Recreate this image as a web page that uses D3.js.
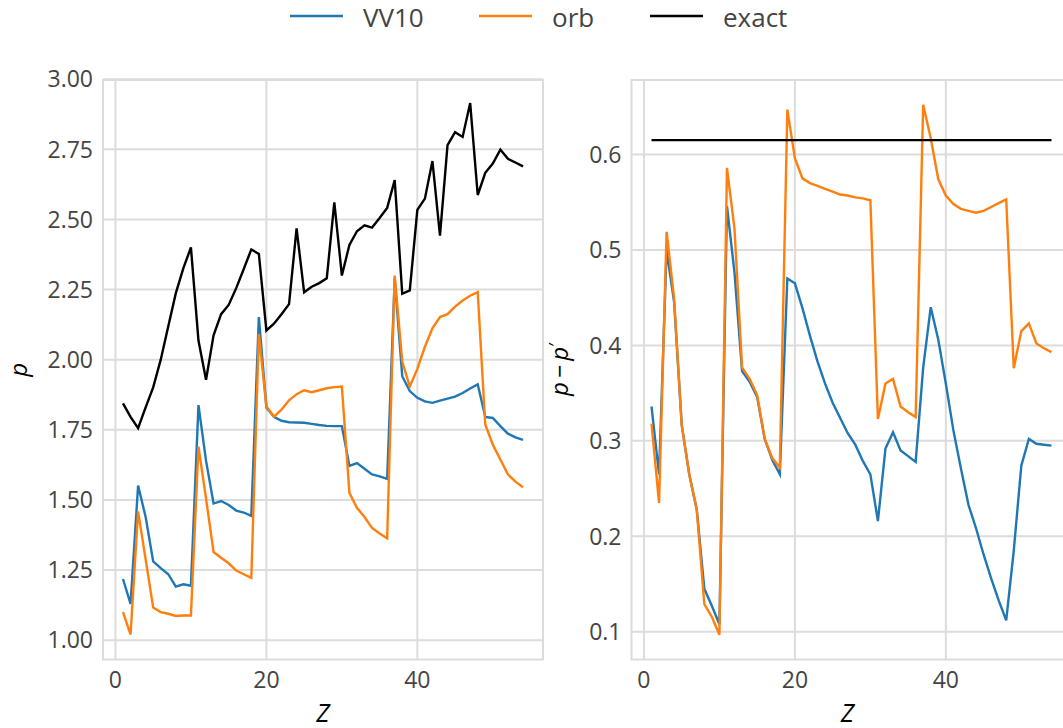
<!DOCTYPE html>
<meta charset="utf-8">

<head>
    <style>
        body { margin: 0; background: #fff; }
        text { font-family: "Open Sans", "Noto Sans", sans-serif; }
    </style>
</head>

<body>

    <script src="https://d3js.org/d3.v7.js"></script>

    <svg width="1063" height="728"></svg>

    <script>

        // ---- data ----
        var Z = [1, 2, 3, 4, 5, 6, 7, 8, 9, 10, 11, 12, 13, 14, 15, 16, 17, 18, 19, 20,
            21, 22, 23, 24, 25, 26, 27, 28, 29, 30, 31, 32, 33, 34, 35, 36, 37, 38, 39, 40,
            41, 42, 43, 44, 45, 46, 47, 48, 49, 50, 51, 52, 53, 54];

        // left panel: p
        var vv10P = [1.218, 1.129, 1.551, 1.439, 1.281, 1.257, 1.235, 1.191, 1.199, 1.194,
            1.838, 1.64, 1.487, 1.496, 1.482, 1.462, 1.455, 1.443, 2.152, 1.829,
            1.796, 1.782, 1.777, 1.776, 1.775, 1.771, 1.767, 1.764, 1.763, 1.763,
            1.621, 1.631, 1.611, 1.591, 1.584, 1.575, 2.29, 1.941, 1.888, 1.864,
            1.851, 1.846, 1.854, 1.861, 1.868, 1.881, 1.897, 1.912, 1.796, 1.792,
            1.763, 1.736, 1.723, 1.714];
        var orbP = [1.100, 1.02, 1.459, 1.288, 1.116, 1.100, 1.094, 1.086, 1.088, 1.088,
            1.690, 1.505, 1.314, 1.294, 1.274, 1.248, 1.235, 1.222, 2.092, 1.833,
            1.797, 1.822, 1.855, 1.877, 1.891, 1.884, 1.891, 1.898, 1.902, 1.904,
            1.525, 1.472, 1.439, 1.400, 1.380, 1.363, 2.300, 1.993, 1.904, 1.967,
            2.046, 2.112, 2.152, 2.162, 2.189, 2.211, 2.228, 2.241, 1.769, 1.697,
            1.644, 1.591, 1.565, 1.545];
        var exactP = [1.844, 1.796, 1.756, 1.83, 1.901, 2.0, 2.119, 2.237, 2.326, 2.40,
            2.068, 1.928, 2.087, 2.162, 2.195, 2.255, 2.323, 2.393, 2.377, 2.104,
            2.128, 2.162, 2.198, 2.468, 2.240, 2.26, 2.273, 2.290, 2.561, 2.300,
            2.409, 2.458, 2.479, 2.471, 2.505, 2.541, 2.640, 2.235, 2.247, 2.534,
            2.574, 2.708, 2.442, 2.765, 2.811, 2.794, 2.915, 2.587, 2.666, 2.699,
            2.749, 2.716, 2.703, 2.689];

        // right panel: p - p'
        var vv10D = [0.336, 0.265, 0.50, 0.445, 0.317, 0.265, 0.228, 0.145, 0.127, 0.108,
            0.546, 0.476, 0.373, 0.362, 0.346, 0.302, 0.280, 0.265, 0.470, 0.465,
            0.439, 0.410, 0.383, 0.360, 0.340, 0.324, 0.308, 0.296, 0.279, 0.265,
            0.216, 0.292, 0.309, 0.290, 0.284, 0.278, 0.377, 0.440, 0.406, 0.360,
            0.311, 0.271, 0.233, 0.2085, 0.181, 0.156, 0.133, 0.112, 0.185, 0.274,
            0.302, 0.297, 0.296, 0.295];
        var orbD = [0.318, 0.235, 0.519, 0.449, 0.317, 0.265, 0.228, 0.129, 0.1155, 0.097,
            0.586, 0.522, 0.377, 0.365, 0.348, 0.302, 0.282, 0.272, 0.647, 0.596,
            0.575, 0.570, 0.567, 0.564, 0.561, 0.558, 0.557, 0.555, 0.554, 0.552,
            0.323, 0.360, 0.365, 0.336, 0.330, 0.325, 0.652, 0.617, 0.574, 0.557,
            0.548, 0.543, 0.541, 0.539, 0.541, 0.545, 0.549, 0.553, 0.376, 0.415,
            0.423, 0.402, 0.397, 0.393];
        var exactD = [0.615, 0.615, 0.615, 0.615, 0.615, 0.615, 0.615, 0.615, 0.615, 0.615,
            0.615, 0.615, 0.615, 0.615, 0.615, 0.615, 0.615, 0.615, 0.615, 0.615,
            0.615, 0.615, 0.615, 0.615, 0.615, 0.615, 0.615, 0.615, 0.615, 0.615,
            0.615, 0.615, 0.615, 0.615, 0.615, 0.615, 0.615, 0.615, 0.615, 0.615,
            0.615, 0.615, 0.615, 0.615, 0.615, 0.615, 0.615, 0.615, 0.615, 0.615,
            0.615, 0.615, 0.615, 0.615];

        var xTicks = [0, 20, 40];
        var yTicksLeft = [1.00, 1.25, 1.50, 1.75, 2.00, 2.25, 2.50, 2.75, 3.00];
        var yTicksRight = [0.1, 0.2, 0.3, 0.4, 0.5, 0.6];

        var seriesNames = ["VV10", "orb", "exact"];
        var seriesColors = ["#1f77b4", "#ff7f0e", "#000000"];

        // ---- layout ----
        var svg = d3.select("svg");
        var gridColor = "#dcdcdc",
            textColor = "#444444",
            panelTop = 80, panelBottom = 659.5, panelW = 440;

        var xDomain = [-1.65, 56.65];

        var panels = [
            { left: 103, yDomain: [0.931, 2.997], ticks: yTicksLeft, fmt: d3.format(".2f"),
              series: [vv10P, orbP, exactP], label: "p" },
            { left: 631.5, yDomain: [0.071, 0.678], ticks: yTicksRight, fmt: d3.format(".1f"),
              series: [vv10D, orbD, exactD], label: "p\u2009\u2212\u2009p" }
        ];

        panels.forEach(function (p, pi) {
            var xScale = d3.scaleLinear().domain(xDomain).range([p.left, p.left + panelW]);
            var yScale = d3.scaleLinear().domain(p.yDomain).range([panelBottom, panelTop]);
            var g = svg.append("g");

            // grid
            g.selectAll(".hgrid").data(p.ticks).enter().append("line")
                .attr("x1", p.left).attr("x2", p.left + panelW)
                .attr("y1", function (d) { return yScale(d); })
                .attr("y2", function (d) { return yScale(d); })
                .attr("stroke", gridColor).attr("stroke-width", 2);
            g.selectAll(".vgrid").data(xTicks).enter().append("line")
                .attr("y1", panelTop).attr("y2", panelBottom)
                .attr("x1", function (d) { return xScale(d); })
                .attr("x2", function (d) { return xScale(d); })
                .attr("stroke", gridColor).attr("stroke-width", 2);

            // panel border
            g.append("rect")
                .attr("x", p.left).attr("y", panelTop)
                .attr("width", panelW).attr("height", panelBottom - panelTop)
                .attr("fill", "none").attr("stroke", gridColor).attr("stroke-width", 2);

            // tick labels
            g.selectAll(".ylab").data(p.ticks).enter().append("text")
                .attr("x", p.left - 10)
                .attr("y", function (d) { return yScale(d); })
                .attr("dy", "0.36em")
                .attr("text-anchor", "end")
                .attr("font-size", "23px")
                .attr("fill", textColor)
                .text(p.fmt);
            g.selectAll(".xlab").data(xTicks).enter().append("text")
                .attr("x", function (d) { return xScale(d); })
                .attr("y", 688)
                .attr("text-anchor", "middle")
                .attr("font-size", "23px")
                .attr("fill", textColor)
                .text(function (d) { return d; });

            // lines
            var line = d3.line()
                .x(function (d, i) { return xScale(Z[i]); })
                .y(function (d) { return yScale(d); });
            p.series.forEach(function (s, si) {
                g.append("path")
                    .datum(s)
                    .attr("d", line)
                    .attr("fill", "none")
                    .attr("stroke", seriesColors[si])
                    .attr("stroke-width", 2.4)
                    .attr("stroke-linejoin", "miter");
            });

            // axis titles
            g.append("text")
                .attr("x", p.left + panelW / 2 - (pi === 1 ? 4 : 0))
                .attr("y", 722)
                .attr("text-anchor", "middle")
                .attr("font-size", "25px")
                .attr("font-style", "italic")
                .attr("fill", "#000")
                .text("Z");

            var yl = g.append("text")
                .attr("transform", "translate(" + (pi === 0 ? 27 : 568) + "," + ((panelTop + panelBottom) / 2) + ") rotate(-90)")
                .attr("text-anchor", "middle")
                .attr("font-size", "24px")
                .attr("font-style", "italic")
                .attr("fill", "#000")
                .text(p.label);
            if (pi === 1) {
                yl.append("tspan").attr("dy", "-0.45em").attr("font-size", "16px").text("\u2032");
            }
        });

        // legend
        var legendX = [290, 479, 650];
        var legend = svg.append("g");
        legend.selectAll("line").data(seriesNames).enter().append("line")
            .attr("x1", function (d, i) { return legendX[i]; })
            .attr("x2", function (d, i) { return legendX[i] + 53; })
            .attr("y1", 16).attr("y2", 16)
            .attr("stroke", function (d, i) { return seriesColors[i]; })
            .attr("stroke-width", 2.6);
        legend.selectAll("text").data(seriesNames).enter().append("text")
            .attr("x", function (d, i) { return legendX[i] + 73; })
            .attr("y", 18)
            .attr("dy", "0.36em")
            .attr("font-size", "26px")
            .attr("fill", textColor)
            .text(function (d) { return d; });

    </script>
</body>
</html>
